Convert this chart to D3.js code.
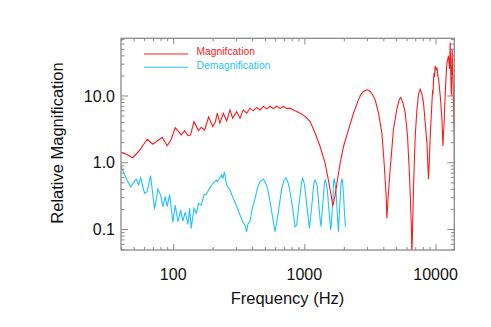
<!DOCTYPE html>
<html>
<head>
<meta charset="utf-8">
<script src="https://cdn.jsdelivr.net/npm/d3@7"></script>
<style>
body { margin: 0; background: #fff; }
svg text { font-family: "Liberation Sans", Arial, Helvetica, sans-serif; }
</style>
</head>
<body>
<svg id="chart" width="491" height="327"></svg>
<script>
// magnification curve (Hz, ratio)
var magFreq = [40, 42.6, 49.2, 55.7, 63.3, 70, 82.4, 90, 96.5, 103.6, 115, 122, 129.5, 135.7, 144, 156, 163.7, 173.7, 186.4, 200,
 209.4, 216.8, 227, 240.8, 255.7, 271, 284, 304.6, 323, 342, 363, 385, 408, 433, 459, 487, 516, 547, 580, 615,
 653, 692, 734, 778, 850, 929, 1014, 1107, 1209, 1320, 1440, 1525, 1591, 1648, 1716, 1786, 1874, 1986, 2168, 2368,
 2585, 2700, 2820, 2994, 3080, 3173, 3320, 3467, 3675, 3900, 4058, 4205, 4256, 4355, 4510, 4778, 5070, 5310, 5444, 5638,
 5870, 6115, 6334, 6530, 6607, 6797, 7000, 7215, 7418, 7640, 7870, 8090, 8340, 8590, 8840, 8950, 9110, 9390, 9500, 9560,
 9660, 9750, 9820, 9950, 10100, 10250, 10400, 10550, 10860, 11190, 11380, 11650, 11920, 12210, 12560, 12790, 12940, 13180, 13400, 13710,
 13890, 13960];
var magVal = [1.41, 1.36, 1.17, 1.53, 2.21, 1.86, 2.37, 1.77, 2.21, 3.3, 2.57, 2.98, 2.51, 2.57, 4.06, 2.98, 3.35, 3.05, 4.78, 3.42,
 3.98, 5.43, 3.85, 5.43, 4.17, 6.09, 4.57, 5.74, 4.57, 6.09, 5.43, 6.46, 5.89, 6.64, 6.09, 6.87, 6.31, 6.92, 6.37, 6.92,
 6.41, 6.87, 6.35, 6.46, 5.89, 5.43, 4.87, 4.06, 2.72, 1.71, 0.966, 0.542, 0.343, 0.221, 0.323, 0.542, 0.966, 1.71, 3.05, 5.43,
 8.61, 10.4, 11.5, 12.2, 12.0, 11.5, 10.2, 8.61, 5.43, 2.72, 0.966, 0.305, 0.1435, 0.312, 0.785, 3.13, 6.24, 8.81, 9.31, 7.84,
 5.55, 2.48, 0.623, 0.124, 0.04, 0.441, 2.48, 6.24, 10.5, 12.45, 10.5, 7.84, 3.93, 1.97, 0.556, 0.986, 2.48, 7.84, 12, 10.5,
 17.6, 22, 19, 27.9, 24, 26.3, 20, 17.6, 9.88, 4.42, 1.76, 4.42, 13.95, 31.2, 39.3, 24.9, 62.3, 9.88, 49.6, 7.84,
 2.48, 0.394];

// demagnification curve
var demFreq = [40, 42.6, 47.3, 50.1, 52.2, 54.5, 56.4, 60.5, 63.3, 67.2, 72.1, 76.4, 80.2, 83.4, 86.9, 90, 93.9, 99.5, 103.6, 108.6,
 113.9, 118.5, 123.5, 129.5, 133.3, 137.1, 144, 150, 156, 163.7, 171.5, 178.5, 189.5, 200.8, 212.9, 216.8, 234, 239.4, 246, 255.7,
 271, 287, 304.6, 323, 340, 352, 363, 371, 385, 400, 421, 440, 459, 487, 516, 540, 564, 597, 633, 672,
 700, 724, 750, 778, 815, 850, 875, 900, 929, 952, 972, 993, 1014, 1045, 1074, 1092, 1115, 1138, 1170, 1190,
 1209, 1232, 1256, 1290, 1320, 1340, 1365, 1396, 1420, 1445, 1470, 1498, 1535, 1572, 1591, 1620, 1648, 1668, 1686, 1715,
 1747, 1780, 1808, 1817, 1845, 1874, 1900, 1932, 1960, 1986, 2020, 2056];
var demVal = [0.889, 0.645, 0.43, 0.501, 0.561, 0.456, 0.587, 0.343, 0.362, 0.63, 0.199, 0.397, 0.323, 0.216, 0.305, 0.216, 0.331, 0.126, 0.229, 0.1285,
 0.192, 0.1316, 0.178, 0.1175, 0.204, 0.102, 0.204, 0.172, 0.243, 0.229, 0.323, 0.331, 0.407, 0.484, 0.542, 0.512, 0.645, 0.581, 0.715, 0.456,
 0.384, 0.288, 0.221, 0.162, 0.127, 0.115, 0.091, 0.1187, 0.1285, 0.2, 0.288, 0.42, 0.512, 0.56, 0.45, 0.3, 0.181, 0.091, 0.181, 0.407,
 0.54, 0.587, 0.5, 0.362, 0.2, 0.108, 0.115, 0.2, 0.323, 0.5, 0.575, 0.5, 0.384, 0.22, 0.136, 0.102, 0.15, 0.216, 0.4, 0.52,
 0.542, 0.5, 0.43, 0.22, 0.136, 0.108, 0.18, 0.305, 0.48, 0.542, 0.48, 0.384, 0.2, 0.1216, 0.0965, 0.16, 0.272, 0.48, 0.575, 0.48,
 0.343, 0.18, 0.108, 0.091, 0.16, 0.272, 0.48, 0.575, 0.48, 0.343, 0.18, 0.108];

var xMajor = [100, 1000, 10000];
var xLabels = ["100", "1000", "10000"];
var yMajor = [0.1, 1, 10];
var yLabels = ["0.1", "1.0", "10.0"];
var seriesNames = ["Magnifcation", "Demagnification"];
var seriesColors = ["#ff1a1a", "#1ec3ff"];

var svg = d3.select("#chart");
var L = 121, R = 454.3, T = 38.3, B = 250;

var x = d3.scaleLog().domain([40, 13900]).range([L, R]);
var y = d3.scaleLog().domain([0.0485, 72]).range([B, T]);

svg.append("clipPath").attr("id", "clip").append("rect")
 .attr("x", L).attr("y", T).attr("width", R - L).attr("height", B - T);

var line = d3.line().x(function(d) { return x(d[0]); }).y(function(d) { return y(d[1]); });

var plot = svg.append("g").attr("clip-path", "url(#clip)");
plot.append("path").datum(d3.zip(demFreq, demVal)).attr("d", line)
 .attr("fill", "none").attr("stroke", seriesColors[1]).attr("stroke-width", 1.1);
plot.append("path").datum(d3.zip(magFreq, magVal)).attr("d", line)
 .attr("fill", "none").attr("stroke", seriesColors[0]).attr("stroke-width", 1.1);

// axes: ticks on all four sides, pointing in
var xMinor = x.ticks().filter(function(t) { return xMajor.indexOf(t) < 0; });
var yMinor = y.ticks().filter(function(t) { return yMajor.map(String).indexOf(String(+t.toPrecision(3))) < 0; });
var axisColor = "#8a8a8a";

function ticks(gen, vals, size, tr) {
 var g = svg.append("g").attr("transform", tr)
  .call(gen.tickValues(vals).tickSize(size).tickFormat(""));
 g.select(".domain").remove();
 g.selectAll("line").attr("stroke", axisColor);
}
ticks(d3.axisBottom(x), xMajor, -6, "translate(0," + B + ")");
ticks(d3.axisBottom(x), xMinor, -3, "translate(0," + B + ")");
ticks(d3.axisTop(x), xMajor, -6, "translate(0," + T + ")");
ticks(d3.axisTop(x), xMinor, -3, "translate(0," + T + ")");
ticks(d3.axisLeft(y), yMajor, -7, "translate(" + L + ",0)");
ticks(d3.axisLeft(y), yMinor, -3.5, "translate(" + L + ",0)");
ticks(d3.axisRight(y), yMajor, -7, "translate(" + R + ",0)");
ticks(d3.axisRight(y), yMinor, -3.5, "translate(" + R + ",0)");

svg.append("rect").attr("x", L).attr("y", T).attr("width", R - L).attr("height", B - T)
 .attr("fill", "none").attr("stroke", axisColor).attr("stroke-width", 1.3);

// tick labels
svg.selectAll(".xl").data(xMajor).enter().append("text")
 .attr("x", function(d) { return x(d); }).attr("y", 279.5)
 .attr("text-anchor", "middle").style("font-size", "16px").attr("fill", "#111")
 .text(function(d, i) { return xLabels[i]; });
svg.selectAll(".yl").data(yMajor).enter().append("text")
 .attr("x", 115).attr("y", function(d) { return y(d) + 6; })
 .attr("text-anchor", "end").style("font-size", "16px").attr("fill", "#111")
 .text(function(d, i) { return yLabels[i]; });

// titles
svg.append("text").attr("x", 287.5).attr("y", 304).attr("text-anchor", "middle")
 .style("font-size", "16.5px").attr("fill", "#111").text("Frequency (Hz)");
svg.append("text").attr("transform", "translate(63,143) rotate(-90)").attr("text-anchor", "middle")
 .style("font-size", "16.5px").attr("fill", "#111").text("Relative Magnification");

// legend
var leg = svg.selectAll(".leg").data(seriesNames).enter().append("g")
 .attr("transform", function(d, i) { return "translate(144," + (54 + i * 13.3) + ")"; });
leg.append("line").attr("x1", 0).attr("x2", 44).attr("y1", 0).attr("y2", 0)
 .attr("stroke", function(d, i) { return seriesColors[i]; }).attr("stroke-width", 1.1);
leg.append("text").attr("x", 52.5).attr("y", 1.2).style("font-size", "10.3px")
 .attr("fill", function(d, i) { return seriesColors[i]; }).text(function(d) { return d; });
</script>
</body>
</html>
